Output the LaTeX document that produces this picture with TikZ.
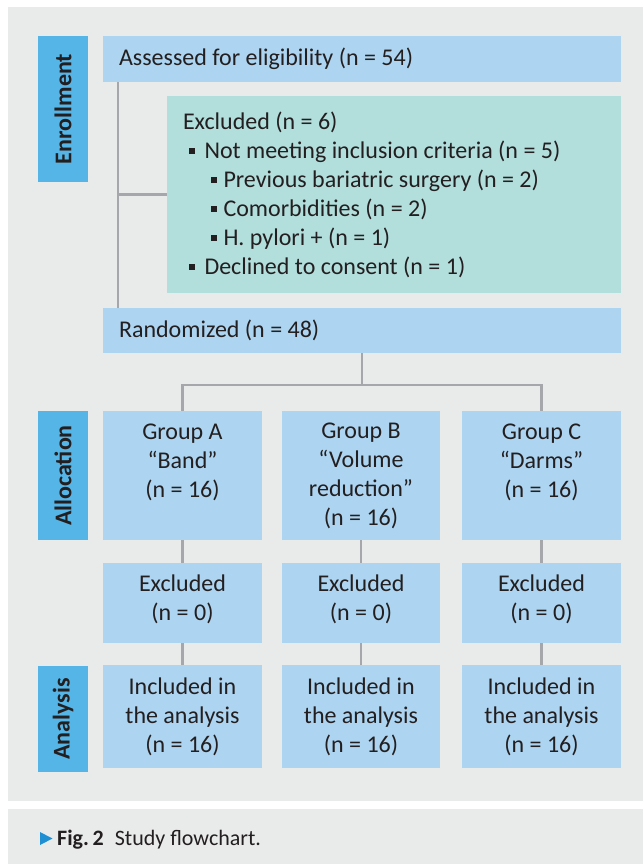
\documentclass[tikz,border=0pt]{standalone}
\usepackage{fontspec}
\setmainfont{Carlito}
\definecolor{bgc}{HTML}{E9EBEB}
\definecolor{boxblue}{HTML}{ADD4F0}
\definecolor{teal}{HTML}{B2DEDC}
\definecolor{labblue}{HTML}{55B5E6}
\definecolor{linec}{HTML}{A5A7AA}
\definecolor{txt}{HTML}{231F20}
\definecolor{capblue}{HTML}{1F8FD3}
\newcommand{\sqb}{\raisebox{4.3pt}{\rule{5.5pt}{5.5pt}}}
\begin{document}
\begin{tikzpicture}[x=1pt,y=-1pt,
  every node/.style={text=txt},
  box/.style={fill=boxblue, draw=none, inner sep=0pt, align=center,
    font=\fontsize{24}{29}\selectfont},
  lbox/.style={box, inner xsep=16pt, align=flush left},
  phase/.style={fill=labblue, draw=none, inner sep=0pt, rotate=90,
    font=\fontsize{24}{29}\selectfont\bfseries, minimum height=50pt},
  conn/.style={draw=linec, line width=2.5pt, line join=miter}]
\useasboundingbox (0,0) rectangle (643,864);
\fill[white] (0,0) rectangle (643,864);
\fill[bgc] (8,7) rectangle (643,801);
\fill[bgc] (8,809) rectangle (643,864);

% phase labels
\node[phase, minimum width=146pt] (enr) at (63,109) {Enrollment};
\node[phase, minimum width=129pt] (alo) at (63,475.5) {Allocation};
\node[phase, minimum width=106pt] (ana) at (63,719) {Analysis};

% enrollment
\node[lbox, text width=486pt, minimum height=46pt] (assess) at (362,59) {Assessed for eligibility (n = 54)};
\node[lbox, fill=teal, text width=422pt, minimum height=197pt] (excl) at (394,194.5) {Excluded (n = 6)\\
\hspace*{6pt}\sqb\hspace{10pt}Not meeting inclusion criteria (n = 5)\\
\hspace*{28pt}\sqb\hspace{7pt}Previous bariatric surgery (n = 2)\\
\hspace*{28pt}\sqb\hspace{7pt}Comorbidities (n = 2)\\
\hspace*{28pt}\sqb\hspace{7pt}H. pylori + (n = 1)\\
\hspace*{6pt}\sqb\hspace{10pt}Declined to consent (n = 1)};
\node[lbox, text width=486pt, minimum height=45pt] (rand) at (362,330.5) {Randomized (n = 48)};

% allocation
\node[box, minimum width=159pt, minimum height=129pt] (gA) at (182.5,475.5) {Group A\\“Band”\\(n = 16)\\\mbox{}};
\node[box, minimum width=158pt, minimum height=129pt] (gB) at (361,475.5) {Group B\\“Volume\\reduction”\\(n = 16)};
\node[box, minimum width=159pt, minimum height=129pt] (gC) at (541.5,475.5) {Group C\\“Darms”\\(n = 16)\\\mbox{}};

\node[box, minimum width=159pt, minimum height=80pt] (xA) at (182.5,603) {Excluded\\(n = 0)\\[-18pt]\mbox{}};
\node[box, minimum width=158pt, minimum height=80pt] (xB) at (361,603) {Excluded\\(n = 0)\\[-18pt]\mbox{}};
\node[box, minimum width=159pt, minimum height=80pt] (xC) at (541.5,603) {Excluded\\(n = 0)\\[-18pt]\mbox{}};

% analysis
\node[box, minimum width=159pt, minimum height=103pt] (iA) at (182.5,716.5) {Included in\\the analysis\\(n = 16)};
\node[box, minimum width=158pt, minimum height=103pt] (iB) at (361,716.5) {Included in\\the analysis\\(n = 16)};
\node[box, minimum width=159pt, minimum height=103pt] (iC) at (541.5,716.5) {Included in\\the analysis\\(n = 16)};

% connectors
\coordinate (trunk) at (118,0);
\coordinate (split) at (0,385);
\draw[conn] (assess.south -| trunk) -- (rand.north -| trunk);
\draw[conn] (excl.west) -- (excl.west -| trunk);
\draw[conn] (rand.south) -- (rand.south |- split);
\draw[conn] (gA.north) -- (gA.north |- split) -- (gC.north |- split) -- (gC.north);
\foreach \g in {A,B,C}{
  \draw[conn] (g\g.south) -- (x\g.north);
  \draw[conn] (x\g.south) -- (i\g.north);
}

% caption
\fill[capblue] (40,832) -- (52.5,838.5) -- (40,845) -- cycle;
\node[anchor=base west, inner sep=0pt, font=\fontsize{22}{26}\selectfont] (cap) at (57,845) {\textbf{Fig.\,2}\hspace{11pt}Study flowchart.};
\end{tikzpicture}
\end{document}
